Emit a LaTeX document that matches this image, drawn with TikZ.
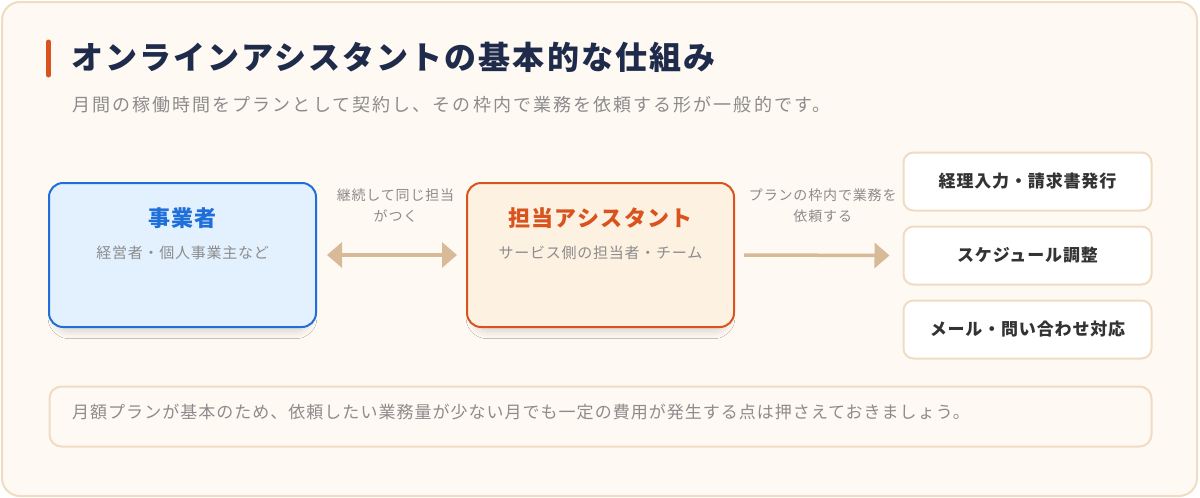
\documentclass[tikz,border=0pt]{standalone}
\usepackage{fontspec}
\setmainfont{Noto Sans CJK JP}
\usepackage{xcolor}
\usetikzlibrary{arrows.meta, shadows.blur}

\definecolor{bgcream}{HTML}{FFF9F3}
\definecolor{frametan}{HTML}{F0DCC2}
\definecolor{navy}{HTML}{1E2B4A}
\definecolor{accent}{HTML}{D9531E}
\definecolor{softgray}{HTML}{8C8C8C}
\definecolor{bizblue}{HTML}{1E6FD9}
\definecolor{bizfill}{HTML}{E3F0FE}
\definecolor{asstfill}{HTML}{FDF1E2}
\definecolor{arrowtan}{HTML}{D7BA98}
\definecolor{taskink}{HTML}{333333}

\newcommand{\setfs}[2]{\fontsize{#1}{#2}\selectfont}

\tikzstyle{actor} = [rectangle, 
rounded corners=14pt, 
line width=2pt, 
minimum width=267pt, 
minimum height=144pt,
blur shadow={shadow xshift=0pt, shadow yshift=-8pt, shadow scale=0.95, shadow blur radius=8pt, shadow blur extra rounding=10pt, shadow blur steps=10, shadow opacity=16}]
\tikzstyle{actortitle} = [font=\setfs{22}{26}\bfseries\addfontfeature{LetterSpace=6}]
\tikzstyle{actorsub} = [font=\setfs{15}{18}\addfontfeature{LetterSpace=5}, text=softgray]
\tikzstyle{task} = [rectangle, 
rounded corners=10pt, 
line width=2pt, 
draw=frametan, fill=white,
minimum width=248pt, 
minimum height=58pt,
font=\setfs{17}{20}\bfseries\addfontfeature{LetterSpace=5}, text=taskink]
\tikzstyle{arrow} = [line width=3.5pt, draw=arrowtan, >={Triangle[length=15pt,width=25pt]}]
\tikzstyle{arrowlabel} = [font=\setfs{14}{21}\addfontfeature{LetterSpace=6}, text=softgray, align=center, inner sep=0pt]

\begin{document}
\begin{tikzpicture}[x=1pt, y=-1pt]
\useasboundingbox (0,0) rectangle (1200,498);

% Cadre de fond
\draw[frametan, line width=2pt, fill=bgcream, rounded corners=18pt] (2,2) rectangle (1197,496);

% Titre et sous-titre
\draw[accent, line width=5pt, line cap=round] (48.5,42) -- (48.5,75);
\node[anchor=west, inner sep=0pt, text=navy, font=\setfs{32}{36}\bfseries\addfontfeature{LetterSpace=6.5}] (title) at (71,57) {オンラインアシスタントの基本的な仕組み};
\node[anchor=west, inner sep=0pt, text=softgray, font=\setfs{18}{22}\addfontfeature{LetterSpace=11.5}] (subtitle) at (72,105) {月間の稼働時間をプランとして契約し、その枠内で業務を依頼する形が一般的です。};

% Les deux acteurs
\node[actor, draw=bizblue, fill=bizfill] (biz) at (182.5,255) {};
\node[actortitle, text=bizblue] (biztitle) at ([yshift=-36pt]biz.north) {事業者};
\node[actorsub] (bizsub) at ([yshift=-71pt]biz.north) {経営者・個人事業主など};

\node[actor, draw=accent, fill=asstfill] (asst) at (600.5,255) {};
\node[actortitle, text=accent] (assttitle) at ([yshift=-36pt]asst.north) {担当アシスタント};
\node[actorsub] (asstsub) at ([yshift=-71pt]asst.north) {サービス側の担当者・チーム};

% Les tâches
\node[task] (task1) at (1027.5,181.5) {経理入力・請求書発行};
\node[task] (task2) at (1027.5,255.5) {スケジュール調整};
\node[task] (task3) at (1027.5,329.5) {メール・問い合わせ対応};

% Flèches
\draw[arrow, <->, shorten <=10pt, shorten >=9pt] (biz.east) -- (asst.west)
  node[arrowlabel, midway, above=31pt, xshift=4pt] (keeplabel) {継続して同じ担当\\がつく};
\draw[arrow, ->, shorten <=9pt, shorten >=13pt] (asst.east) -- (task2.west)
  node[arrowlabel, midway, above=31pt, xshift=4pt] (reqlabel) {プランの枠内で業務を\\依頼する};

% Remarque en bas
\node[rectangle, rounded corners=12pt, line width=2pt, draw=frametan, fill=bgcream, minimum width=1102pt, minimum height=60pt] (note) at (600.5,416.5) {};
\node[anchor=west, inner sep=0pt, text=softgray, font=\setfs{17}{20}\addfontfeature{LetterSpace=6}] (notetext) at (72,412) {月額プランが基本のため、依頼したい業務量が少ない月でも一定の費用が発生する点は押さえておきましょう。};

\end{tikzpicture}
\end{document}
